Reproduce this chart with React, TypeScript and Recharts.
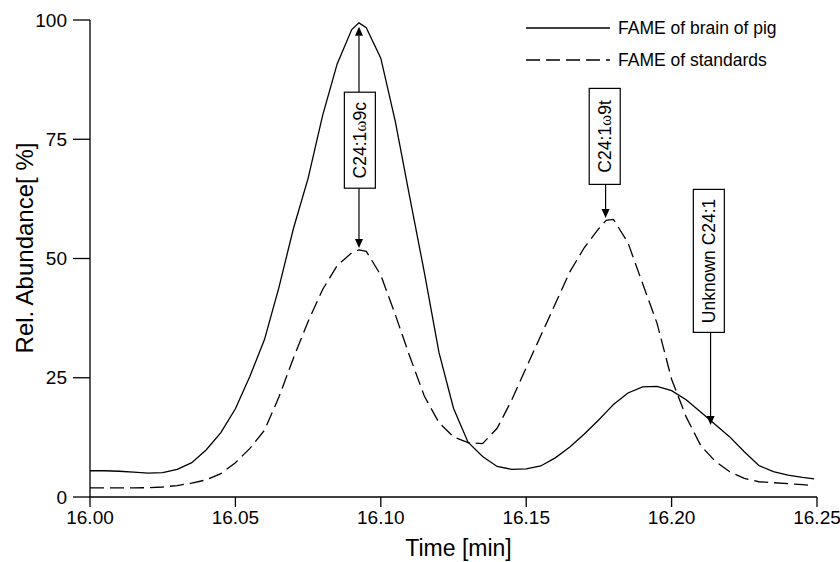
import React from 'react';
import { LineChart, Line, XAxis, YAxis, ReferenceLine, ReferenceDot, Legend } from 'recharts';

const times = [
  16.0, 16.005, 16.01, 16.015, 16.02, 16.025, 16.03, 16.035, 16.04, 16.045,
  16.05, 16.055, 16.06, 16.065, 16.07, 16.075, 16.08, 16.085, 16.09, 16.0925,
  16.095, 16.1, 16.105, 16.11, 16.115, 16.12, 16.125, 16.13, 16.135, 16.14,
  16.145, 16.15, 16.155, 16.16, 16.165, 16.17, 16.175, 16.1775, 16.18, 16.185,
  16.19, 16.195, 16.2, 16.205, 16.21, 16.215, 16.22, 16.225, 16.23, 16.235,
  16.24, 16.245, 16.249,
];

const brainPig = [
  5.5, 5.5, 5.4, 5.2, 5.0, 5.1, 5.8, 7.2, 9.9, 13.5,
  18.5, 25.3, 33.0, 44.0, 56.4, 66.8, 80.0, 90.8, 98.0, 99.4,
  98.4, 92.0, 78.7, 62.7, 47.0, 30.3, 18.6, 11.5, 8.5, 6.4,
  5.8, 5.9, 6.5, 8.2, 10.5, 13.2, 16.2, 17.8, 19.4, 21.8,
  23.1, 23.2, 22.3, 20.4, 17.8, 15.2, 12.6, 9.5, 6.6, 5.3,
  4.6, 4.1, 3.8,
];

const standards = [
  1.9, 1.9, 1.9, 1.9, 1.95, 2.1, 2.4, 2.9, 3.6, 4.9,
  7.2, 10.2, 14.0, 21.0, 29.2, 36.8, 43.5, 48.5, 51.2, 51.8,
  51.5, 46.5, 38.2, 29.4, 21.1, 15.6, 12.6, 11.4, 11.2, 14.4,
  20.3, 27.1, 33.8, 40.5, 47.2, 52.3, 56.3, 58.0, 58.2, 53.3,
  44.8, 36.4, 24.7, 16.8, 10.8, 7.5, 5.3, 3.9, 3.2, 3.0,
  2.8, 2.6, 2.4,
];

const xTicks = [16.0, 16.05, 16.1, 16.15, 16.2, 16.25];
const yTicks = [0, 25, 50, 75, 100];
const seriesNames = ['FAME of brain of pig', 'FAME of standards'];

// annotation boxes: label parts (text, greek, suffix), box center in data coords
const boxLabels = [
  { pre: 'C24:1', greek: 'ω', post: '9c', x: 16.0928, y: 74.8, h: 96 },
  { pre: 'C24:1', greek: 'ω', post: '9t', x: 16.177, y: 75.6, h: 96 },
  { pre: 'Unknown C24:1', greek: '', post: '', x: 16.2128, y: 49.5, h: 143 },
];

// arrows: from (x, yFrom) to tip (x, yTo)
const arrows = [
  { x: 16.0925, yFrom: 84.9, yTo: 98.6 },
  { x: 16.0925, yFrom: 64.8, yTo: 52.2 },
  { x: 16.1773, yFrom: 65.6, yTo: 58.5 },
  { x: 16.2134, yFrom: 34.5, yTo: 15.1 },
];

const data = times.map((t, i) => ({ t, pig: brainPig[i], std: standards[i] }));

const FONT = '"Liberation Sans", Arial, Helvetica, sans-serif';

const ArrowShape = (props: any) => {
  const { x1, y1, x2, y2 } = props;
  const dx = x2 - x1;
  const dy = y2 - y1;
  const len = Math.sqrt(dx * dx + dy * dy) || 1;
  const ux = dx / len;
  const uy = dy / len;
  const hl = 9;
  const hw = 4;
  const bx = x2 - ux * hl;
  const by = y2 - uy * hl;
  const pts = `${x2},${y2} ${bx - uy * hw},${by + ux * hw} ${bx + uy * hw},${by - ux * hw}`;
  return (
    <g>
      <line x1={x1} y1={y1} x2={bx} y2={by} stroke="#000" strokeWidth={1.2} />
      <polygon points={pts} fill="#000" />
    </g>
  );
};

const makeBox = (b: any) => (props: any) => {
  const { cx, cy } = props;
  const w = 31;
  return (
    <g>
      <rect x={cx - w / 2} y={cy - b.h / 2} width={w} height={b.h} fill="#fff" stroke="#000" strokeWidth={1.2} />
      <text
        x={cx}
        y={cy}
        transform={`rotate(-90 ${cx} ${cy})`}
        textAnchor="middle"
        dominantBaseline="central"
        fontSize={17.5}
        fontFamily={FONT}
        fill="#000"
      >
        {b.pre}
        {b.greek ? (
          <tspan fontFamily='"Liberation Serif", "DejaVu Serif", serif' fontSize={17}>{b.greek}</tspan>
        ) : null}
        {b.post}
      </text>
    </g>
  );
};

const LegendContent = () => (
  <div style={{ fontFamily: FONT, fontSize: 17.5, color: '#000' }}>
    {seriesNames.map((name, i) => (
      <div key={name} style={{ display: 'flex', alignItems: 'center', height: 32 }}>
        <svg width={84} height={10} style={{ display: 'block' }}>
          <line x1={0} y1={5} x2={84} y2={5} stroke="#000" strokeWidth={1.3} strokeDasharray={i === 1 ? '14 6' : undefined} />
        </svg>
        <span style={{ marginLeft: 8, whiteSpace: 'nowrap' }}>{name}</span>
      </div>
    ))}
  </div>
);

const YTitle = () => {
  const cx = 24;
  const cy = 248;
  return (
    <text
      x={cx}
      y={cy}
      transform={`rotate(-90 ${cx} ${cy})`}
      textAnchor="middle"
      dominantBaseline="central"
      fontSize={24}
      fontFamily={FONT}
      fill="#000"
    >
      Rel. Abundance[ %]
    </text>
  );
};

const XTitle = (props: any) => {
  const vb = props.viewBox || { x: 90, y: 497, width: 727, height: 65 };
  return (
    <text x={vb.x + vb.width / 2 + 5} y={556} textAnchor="middle" fontSize={23} fontFamily={FONT} fill="#000">
      Time [min]
    </text>
  );
};

export default function App() {
  return (
    <div style={{ position: 'absolute', left: 0, top: 0, width: 840, height: 562, background: '#fff' }}>
      <LineChart width={840} height={562} data={data} margin={{ top: 20, right: 23, left: 0, bottom: 0 }}>
        <XAxis
          dataKey="t"
          type="number"
          domain={[16, 16.25]}
          ticks={xTicks}
          tickFormatter={(v: number) => v.toFixed(2)}
          allowDataOverflow
          height={65}
          tickSize={10}
          tickMargin={4}
          axisLine={{ stroke: '#000', strokeWidth: 1.3 }}
          tickLine={{ stroke: '#000', strokeWidth: 1.3 }}
          tick={{ fontSize: 19, fill: '#000', fontFamily: FONT }}
          label={{ content: XTitle }}
        />
        <YAxis
          type="number"
          domain={[0, 100]}
          ticks={yTicks}
          width={90}
          tickSize={17}
          tickMargin={6}
          axisLine={{ stroke: '#000', strokeWidth: 1.3 }}
          tickLine={{ stroke: '#000', strokeWidth: 1.3 }}
          tick={{ fontSize: 19, fill: '#000', fontFamily: FONT }}
          label={{ content: YTitle }}
        />
        <Legend
          layout="horizontal"
          verticalAlign="middle"
          align="center"
          content={LegendContent}
          wrapperStyle={{ position: 'absolute', left: 526, top: 12, width: 300, height: 64 }}
        />
        <Line
          type="linear"
          dataKey="pig"
          name={seriesNames[0]}
          stroke="#000"
          strokeWidth={1.3}
          dot={false}
          isAnimationActive={false}
        />
        <Line
          type="linear"
          dataKey="std"
          name={seriesNames[1]}
          stroke="#000"
          strokeWidth={1.3}
          strokeDasharray="14 6"
          dot={false}
          isAnimationActive={false}
        />
        {arrows.map((a, i) => (
          <ReferenceLine
            key={'a' + i}
            segment={[{ x: a.x, y: a.yFrom }, { x: a.x, y: a.yTo }]}
            shape={ArrowShape}
            ifOverflow="visible"
          />
        ))}
        {boxLabels.map((b, i) => (
          <ReferenceDot key={'b' + i} x={b.x} y={b.y} r={1} shape={makeBox(b)} ifOverflow="visible" />
        ))}
      </LineChart>
    </div>
  );
}
